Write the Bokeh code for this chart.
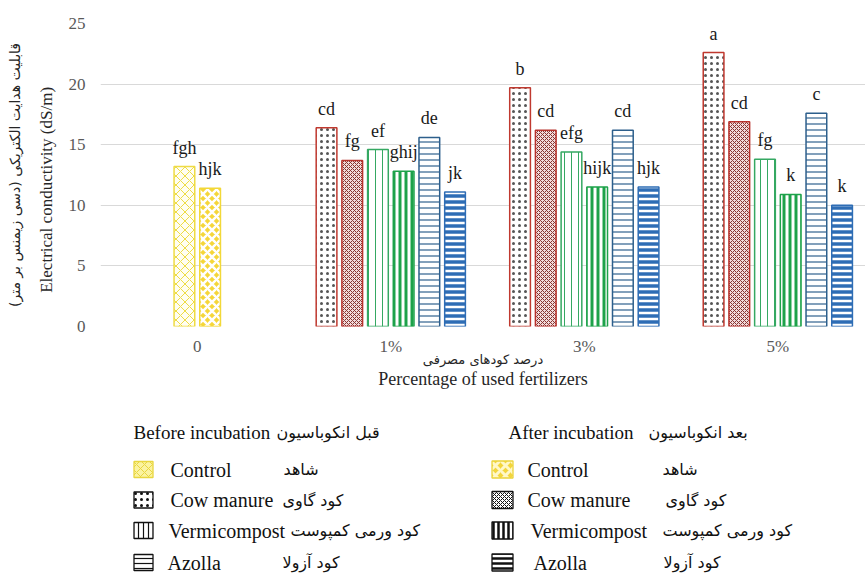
import numpy as np
from bokeh.plotting import figure
from bokeh.models import ColumnDataSource, Range1d, FixedTicker, LabelSet, LinearAxis
from bokeh.layouts import column
from bokeh.core.properties import value
from bokeh.embed import file_html
from bokeh.resources import INLINE

# ---------------- data ----------------
categories = ["0", "1%", "3%", "5%"]
control_cats = ["0"]
fert_cats = ["1%", "3%", "5%"]

control_before = [13.2]
control_after = [11.4]
cow_before = [16.4, 19.7, 22.6]
cow_after = [13.7, 16.2, 16.9]
verm_before = [14.6, 14.4, 13.8]
verm_after = [12.8, 11.5, 10.9]
azolla_before = [15.6, 16.2, 17.6]
azolla_after = [11.1, 11.5, 10.0]

control_before_letters = ["fgh"]
control_after_letters = ["hjk"]
cow_before_letters = ["cd", "b", "a"]
cow_after_letters = ["fg", "cd", "cd"]
verm_before_letters = ["ef", "efg", "fg"]
verm_after_letters = ["ghij", "hijk", "k"]
azolla_before_letters = ["de", "cd", "c"]
azolla_after_letters = ["jk", "hjk", "k"]

y_ticks = [0, 5, 10, 15, 20, 25]

y_title_en = "Electrical conductivity (dS/m)"
y_title_fa = "قابلیت هدایت الکتریکی (دسی زیمنس بر متر)"
x_title_en = "Percentage of used fertilizers"
x_title_fa = "درصد کودهای مصرفی"

legend_en = ["Control", "Cow manure", "Vermicompost", "Azolla"]
legend_fa = ["شاهد", "کود گاوی", "کود ورمی کمپوست", "کود آزولا"]
title_before = ("Before incubation", "قبل انکوباسیون")
title_after = ("After incubation", "بعد انکوباسیون")

SERIF = "Liberation Serif"
FA = "DejaVu Sans"

# ---------------- styles ----------------
styles = {
    "control_before": dict(line_color="#EEDB45", fill_color="#FFFEF2", hatch_pattern="diagonal_cross",
                           hatch_color="#EEDC45", hatch_scale=9, hatch_weight=1),
    "control_after": dict(line_color="#F2D838", fill_color="#F5D63A", hatch_pattern="diagonal_cross",
                          hatch_color="#FFFFFF", hatch_scale=9, hatch_weight=2.5),
    "cow_before": dict(line_color="#C0392F", fill_color="#FFFFFF", hatch_pattern="dot",
                       hatch_color="#555555", hatch_scale=6, hatch_weight=0.45),
    "cow_after": dict(line_color="#B8322C", fill_color="#F3DCDC", hatch_pattern="diagonal_cross",
                      hatch_color="#86332F", hatch_scale=4, hatch_weight=1),
    "verm_before": dict(line_color="#35A862", fill_color="#FFFFFF", hatch_pattern="vertical_line",
                        hatch_color="#35A862", hatch_scale=7, hatch_weight=1),
    "verm_after": dict(line_color="#1DA24A", fill_color="#FFFFFF", hatch_pattern="vertical_line",
                       hatch_color="#1DA24A", hatch_scale=6, hatch_weight=3),
    "azolla_before": dict(line_color="#2D5F8C", fill_color="#FFFFFF", hatch_pattern="horizontal_line",
                          hatch_color="#2D5F8C", hatch_scale=6, hatch_weight=1.2),
    "azolla_after": dict(line_color="#2E6DB5", fill_color="#FFFFFF", hatch_pattern="horizontal_line",
                         hatch_color="#2E6DB5", hatch_scale=6, hatch_weight=3.5),
}

series = [
    ("control_before", control_cats, control_before, control_before_letters, -0.5),
    ("control_after", control_cats, control_after, control_after_letters, 0.5),
    ("cow_before", fert_cats, cow_before, cow_before_letters, -2.5),
    ("cow_after", fert_cats, cow_after, cow_after_letters, -1.5),
    ("verm_before", fert_cats, verm_before, verm_before_letters, -0.5),
    ("verm_after", fert_cats, verm_after, verm_after_letters, 0.5),
    ("azolla_before", fert_cats, azolla_before, azolla_before_letters, 1.5),
    ("azolla_after", fert_cats, azolla_after, azolla_after_letters, 2.5),
]

PITCH = 0.1328
BAR_W = 0.107

# ---------------- main chart ----------------
p = figure(width=865, height=400, x_range=Range1d(-0.5, 3.453), y_range=Range1d(0, 25),
           output_backend="svg", toolbar_location=None,
           min_border_left=100, min_border_right=0, min_border_top=23, min_border_bottom=74)
p.outline_line_color = None
p.background_fill_color = "white"

for name, cats, vals, letters, off in series:
    xs = [categories.index(c) + off * PITCH for c in cats]
    src = ColumnDataSource(dict(x=xs, top=vals, lab=letters))
    p.vbar(x="x", top="top", bottom=0, width=BAR_W, source=src, line_width=1.5, **styles[name])
    p.add_layout(LabelSet(x="x", y="top", text="lab", source=src, y_offset=13,
                          text_align="center", text_baseline="alphabetic",
                          text_font=value(SERIF), text_font_size="18px", text_color="#1a1a1a"))

p.xgrid.visible = False
p.ygrid.grid_line_color = "#D9D9D9"
p.ygrid.grid_line_width = 1
p.ygrid.ticker = FixedTicker(ticks=y_ticks)

def style_axis(ax):
    ax.axis_line_color = None
    ax.major_tick_line_color = None
    ax.minor_tick_line_color = None
    ax.major_tick_out = 0
    ax.major_tick_in = 0
    ax.minor_tick_out = 0
    ax.minor_tick_in = 0
    ax.major_label_text_font = SERIF
    ax.major_label_text_font_size = "17px"
    ax.major_label_text_color = "#595959"
    ax.axis_label_text_font_style = "normal"
    ax.axis_label_text_color = "#262626"

yax = p.yaxis[0]
style_axis(yax)
yax.ticker = FixedTicker(ticks=y_ticks)
yax.major_label_standoff = 15
# trailing no-break spaces shift the rotated title slightly downwards, as in the original
yax.axis_label = y_title_en + "\u00a0" * 7
yax.axis_label_standoff = 10
yax.axis_label_text_font = SERIF
yax.axis_label_text_font_size = "17px"

yax2 = LinearAxis(ticker=FixedTicker(ticks=[]), axis_label=y_title_fa)
style_axis(yax2)
yax2.axis_label_standoff = 11
yax2.axis_label_text_font = FA
yax2.axis_label_text_font_size = "14px"
p.add_layout(yax2, "left")

xax = p.xaxis[0]
style_axis(xax)
xax.ticker = FixedTicker(ticks=list(range(len(categories))))
xax.major_label_overrides = {i: c for i, c in enumerate(categories)}
xax.major_label_standoff = 10
xax.axis_label = x_title_fa
xax.axis_label_standoff = -7
xax.axis_label_text_font = FA
xax.axis_label_text_font_size = "13px"

xax2 = LinearAxis(ticker=FixedTicker(ticks=[]), axis_label=x_title_en)
style_axis(xax2)
xax2.axis_label_standoff = -1
xax2.axis_label_text_font = SERIF
xax2.axis_label_text_font_size = "18px"
p.add_layout(xax2, "below")

# ---------------- legend ----------------
lf = figure(width=865, height=173, x_range=Range1d(100, 865), y_range=Range1d(573, 400),
            output_backend="svg", toolbar_location=None, x_axis_type=None, y_axis_type=None,
            min_border_left=100, min_border_right=0, min_border_top=0, min_border_bottom=0)
lf.outline_line_color = None
lf.grid.visible = False

row_y = [469, 499.5, 530, 562]
title_y = 432

legend_icon_styles_before = [
    dict(line_color="#E8D640", fill_color="#FBF3A0", hatch_pattern="diagonal_cross", hatch_color="#E8D640",
         hatch_scale=8, hatch_weight=1),
    dict(line_color="#111111", fill_color="#FFFFFF", hatch_pattern="dot", hatch_color="#111111",
         hatch_scale=6, hatch_weight=0.6),
    dict(line_color="#111111", fill_color="#FFFFFF", hatch_pattern="vertical_line", hatch_color="#111111",
         hatch_scale=5, hatch_weight=1.2),
    dict(line_color="#111111", fill_color="#FFFFFF", hatch_pattern="horizontal_line", hatch_color="#111111",
         hatch_scale=5, hatch_weight=1.2),
]
legend_icon_styles_after = [
    dict(line_color="#EBD43C", fill_color="#F3D53C", hatch_pattern="diagonal_cross", hatch_color="#FFF8C8",
         hatch_scale=10, hatch_weight=3),
    dict(line_color="#111111", fill_color="#FFFFFF", hatch_pattern="diagonal_cross", hatch_color="#111111",
         hatch_scale=4, hatch_weight=1),
    dict(line_color="#111111", fill_color="#FFFFFF", hatch_pattern="vertical_line", hatch_color="#111111",
         hatch_scale=5, hatch_weight=2.5),
    dict(line_color="#111111", fill_color="#FFFFFF", hatch_pattern="horizontal_line", hatch_color="#111111",
         hatch_scale=5, hatch_weight=2.5),
]

def legend_column(icon_x, icon_w, icon_h, en_xs, fa_xs, t_en_x, t_fa_x, titles, icon_styles):
    for yy, st in zip(row_y, icon_styles):
        lf.rect(x=[icon_x], y=[yy], width=icon_w, height=icon_h, line_width=1.3, **st)
    lf.text(x=en_xs, y=row_y, text=legend_en, text_align="left",
            text_baseline="middle", text_font=value(SERIF), text_font_size="20px", text_color="#111111")
    lf.text(x=fa_xs, y=row_y, text=legend_fa, text_align="left",
            text_baseline="middle", text_font=value(FA), text_font_size="16px", text_color="#111111")
    lf.text(x=[t_en_x], y=[title_y], text=[titles[0]], text_align="left", text_baseline="middle",
            text_font=value(SERIF), text_font_size="19px", text_color="#111111")
    lf.text(x=[t_fa_x], y=[title_y], text=[titles[1]], text_align="left", text_baseline="middle",
            text_font=value(FA), text_font_size="16px", text_color="#111111")

legend_column(143, 19, 16, [170, 170, 168, 167], [283, 282, 290, 282], 133, 276,
              title_before, legend_icon_styles_before)
legend_column(502, 21, 17, [527, 527, 530, 533], [662, 665, 662, 663], 508, 648,
              title_after, legend_icon_styles_after)

layout = column(p, lf, spacing=0)
open("out.html", "w").write(file_html(layout, INLINE))
